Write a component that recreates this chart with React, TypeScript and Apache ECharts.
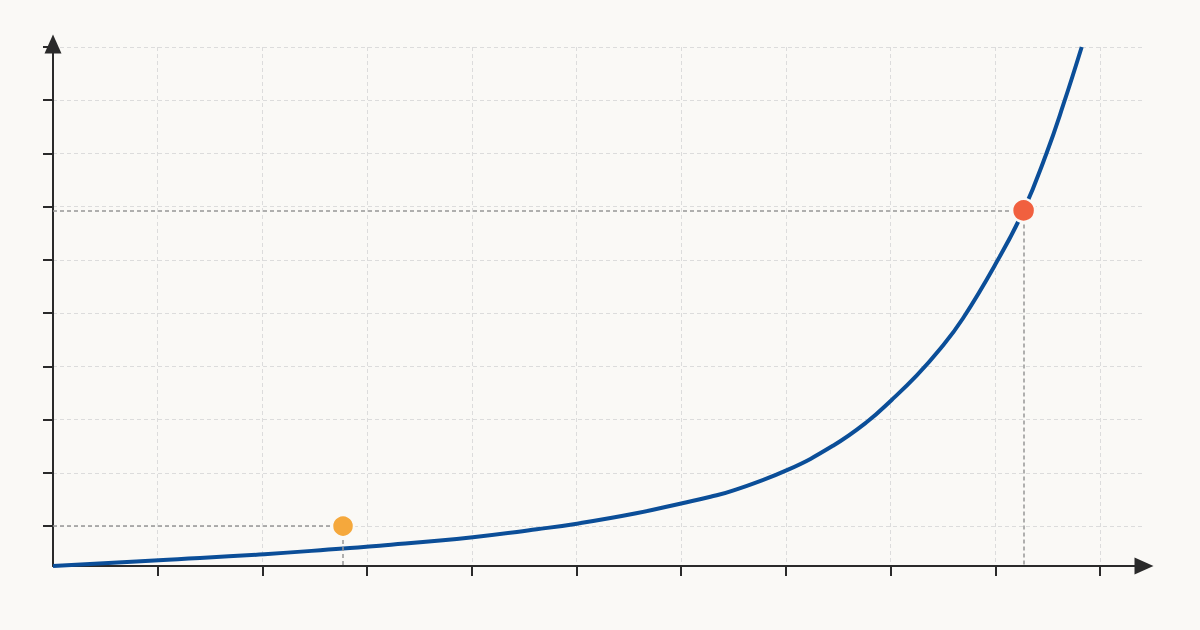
import React, { useEffect, useRef } from "react";
import * as echarts from "echarts";

// Curve samples (x in grid units, y in grid units)
const curveX = [0, 1.01, 2.02, 2.77, 3.12, 4.01, 4.62, 5.02, 5.57, 6.01, 6.28, 6.5, 7.01, 7.45, 7.77, 8.01, 8.25, 8.47, 8.69, 9.01, 9.27, 9.49, 9.65, 9.825];
const curveY = [-0.75, -0.64, -0.53, -0.42, -0.37, -0.21, -0.06, 0.05, 0.24, 0.43, 0.55, 0.67, 1.05, 1.51, 1.95, 2.37, 2.83, 3.32, 3.9, 4.95, 5.93, 7.01, 7.92, 9.0];

// Highlighted points
const lowPoint = [2.77, 0];
const highPoint = [9.27, 5.93];

// Tick positions
const xTicks = [1, 2, 3, 4, 5, 6, 7, 8, 9, 10];
const yTicks = [0, 1, 2, 3, 4, 5, 6, 7, 8, 9];

const X_MIN = 0;
const X_MAX = 10.42;
const Y_MIN = -0.75;
const Y_MAX = 9;

const BG = "#faf9f6";
const AXIS_COLOR = "#2a2a2a";
const GRID_COLOR = "#dcdcdc";
const GUIDE_COLOR = "#979797";

export default function App() {
  const ref = useRef<HTMLDivElement>(null);

  useEffect(() => {
    document.body.style.margin = "0";
    document.body.style.background = BG;
    if (!ref.current) return;
    const chart = echarts.init(ref.current, undefined, { renderer: "svg" });

    const curveData = curveX.map((x, i) => [x, curveY[i]]);

    const axisCommon = {
      type: "value" as const,
      axisLabel: { show: false },
      axisLine: {
        show: true,
        onZero: false,
        lineStyle: { color: AXIS_COLOR, width: 2 },
        symbol: ["none", "triangle"],
        symbolSize: [17, 19],
      },
      axisTick: {
        show: true,
        length: 10,
        lineStyle: { color: AXIS_COLOR, width: 2 },
      },
      splitLine: {
        show: true,
        showMinLine: true,
        showMaxLine: true,
        lineStyle: { color: GRID_COLOR, width: 1, type: [4, 3] },
      },
    };

    chart.setOption({
      animation: false,
      backgroundColor: BG,
      grid: {
        left: 53,
        right: 56,
        top: 47,
        bottom: 64,
        containLabel: false,
        outerBoundsMode: "none",
      },
      xAxis: {
        ...axisCommon,
        min: X_MIN,
        max: X_MAX,
        interval: 1,
        axisTick: { ...axisCommon.axisTick, customValues: xTicks },
        axisLine: { ...axisCommon.axisLine, symbolOffset: [0, 0] },
      },
      yAxis: {
        ...axisCommon,
        min: Y_MIN,
        max: Y_MAX,
        interval: 1,
        axisTick: { ...axisCommon.axisTick, customValues: yTicks },
        axisLine: { ...axisCommon.axisLine, symbolOffset: [0, 3] },
      },
      series: [
        {
          type: "line",
          name: "guides",
          data: [],
          z: 2,
          silent: true,
          markLine: {
            silent: true,
            symbol: ["none", "none"],
            label: { show: false },
            lineStyle: { color: GUIDE_COLOR, width: 1.5, type: [4, 3] },
            data: [
              [{ coord: [X_MIN, lowPoint[1]] }, { coord: [lowPoint[0], lowPoint[1]] }],
              [{ coord: [lowPoint[0], lowPoint[1]] }, { coord: [lowPoint[0], Y_MIN] }],
              [{ coord: [X_MIN, highPoint[1]] }, { coord: [highPoint[0], highPoint[1]] }],
              [{ coord: [highPoint[0], highPoint[1]] }, { coord: [highPoint[0], Y_MIN] }],
            ],
          },
        },
        {
          type: "line",
          name: "curve",
          data: curveData,
          smooth: 0.45,
          showSymbol: false,
          z: 3,
          lineStyle: { color: "#0b4e98", width: 4 },
        },
        {
          type: "scatter",
          name: "low",
          data: [lowPoint],
          symbolSize: 22,
          z: 5,
          itemStyle: { color: "#f5a83c", opacity: 1, borderColor: BG, borderWidth: 2.5 },
        },
        {
          type: "scatter",
          name: "high",
          data: [highPoint],
          symbolSize: 23,
          z: 5,
          itemStyle: { color: "#f1603f", opacity: 1, borderColor: BG, borderWidth: 2.5 },
        },
      ],
    });

    return () => chart.dispose();
  }, []);

  return <div ref={ref} style={{ width: 1200, height: 630 }} />;
}
